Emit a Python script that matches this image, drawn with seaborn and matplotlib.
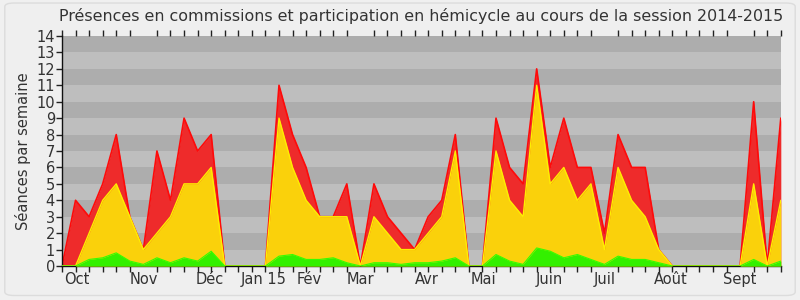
import numpy as np
import pandas as pd
import matplotlib
matplotlib.use("Agg")
import matplotlib.pyplot as plt
import seaborn as sns
from matplotlib.patches import FancyBboxPatch

# weekly values, session 2014-2015
total = [0, 4, 3, 5, 8, 3, 1, 7, 4, 9, 7, 8, 0, 0, 0, 0,
         11, 8, 6, 3, 3, 5, 0, 5, 3, 2, 1, 3, 4, 8, 0, 0,
         9, 6, 5, 12, 6, 9, 6, 6, 2, 8, 6, 6, 1, 0, 0, 0,
         0, 0, 0, 10, 0, 9]
hemicycle = [0, 0, 2, 4, 5, 3, 1, 2, 3, 5, 5, 6, 0, 0, 0, 0,
             9, 6, 4, 3, 3, 3, 0, 3, 2, 1, 1, 2, 3, 7, 0, 0,
             7, 4, 3, 11, 5, 6, 4, 5, 1, 6, 4, 3, 1, 0, 0, 0,
             0, 0, 0, 5, 0, 4]
interventions = [0, 0, 0.4, 0.5, 0.8, 0.3, 0.1, 0.5, 0.2, 0.5, 0.3, 0.9, 0, 0, 0, 0,
                 0.6, 0.7, 0.4, 0.4, 0.5, 0.2, 0, 0.2, 0.2, 0.1, 0.2, 0.2, 0.3, 0.5, 0, 0,
                 0.7, 0.3, 0.1, 1.1, 0.9, 0.5, 0.7, 0.4, 0.1, 0.6, 0.4, 0.4, 0.2, 0, 0, 0,
                 0, 0, 0, 0.4, 0, 0.3]
month_labels = ["Oct", "Nov", "Déc", "Jan 15", "Fév", "Mar", "Avr", "Mai",
                "Juin", "Juil", "Août", "Sept"]
month_pos = [1.1, 6.0, 10.9, 14.9, 18.2, 22.0, 26.9, 31.1, 35.9, 40.0, 44.9, 50.0]

df = pd.DataFrame({"semaine": np.arange(len(total)), "total": total,
                   "hemicycle": hemicycle, "interventions": interventions})

sns.set_style("white")
plt.rcParams["font.family"] = ["DejaVu Sans"]
txt = "#333333"

fig = plt.figure(figsize=(8, 3), dpi=100, facecolor="#f0f0f0")
fig.patches.append(FancyBboxPatch((0.006, 0.015), 0.988, 0.975, boxstyle="round,pad=0,rounding_size=0.012",
                                  transform=fig.transFigure, facecolor="#efefef",
                                  edgecolor="#dcdcdc", linewidth=1, zorder=-10))
ax = fig.add_axes([0.0775, 0.1133, 0.8985, 0.7667])
ax.set_facecolor("#bebebe")

# striped background
for k in range(14):
    if k % 2 == 1:
        ax.axhspan(k, k + 1, color="#adadad", lw=0, zorder=0)

x = df["semaine"]
ax.fill_between(x, 0, df["total"], color="#ee2b2b", lw=0, zorder=2)
ax.fill_between(x, 0, df["hemicycle"], color="#fad10b", lw=0, zorder=3)
ax.fill_between(x, 0, df["interventions"], color="#33f000", lw=0, zorder=4)
sns.lineplot(data=df, x="semaine", y="total", ax=ax, color="#ff0a0a", lw=1.2, zorder=2.5)
sns.lineplot(data=df, x="semaine", y="hemicycle", ax=ax, color="#ffee00", lw=1.0, zorder=3.5)
sns.lineplot(data=df, x="semaine", y="interventions", ax=ax, color="#33ff00", lw=0.8, zorder=4.5)

ax.set_xlim(0, len(total) - 1)
ax.set_ylim(0, 14)
ax.set_yticks(range(0, 15))
ax.set_yticklabels([str(v) for v in range(0, 15)], color=txt, fontsize=10.5)
ax.set_xticks(np.arange(len(total)), minor=True)
ax.set_xticks(month_pos)
ax.set_xticklabels(month_labels, color=txt, fontsize=10.5)
ax.tick_params(axis="x", which="major", length=0, pad=4)
ax.tick_params(axis="x", which="minor", length=4, width=1, color="#222222", bottom=True, top=True,
               direction="out")
ax.tick_params(axis="y", which="major", length=4, width=1, color="#222222", pad=1, left=True)
for s in ["top", "right"]:
    ax.spines[s].set_visible(False)
for s in ["left", "bottom"]:
    ax.spines[s].set_color("#111111")
    ax.spines[s].set_linewidth(1)
ax.set_xlabel("")
ax.set_ylabel("Séances par semaine", color=txt, fontsize=10.5, labelpad=4)
fig.text(0.527, 0.945, "Présences en commissions et participation en hémicycle au cours de la session 2014-2015",
         ha="center", va="center", color=txt, fontsize=11.4)

fig.savefig("out.png", dpi=100, facecolor=fig.get_facecolor())
